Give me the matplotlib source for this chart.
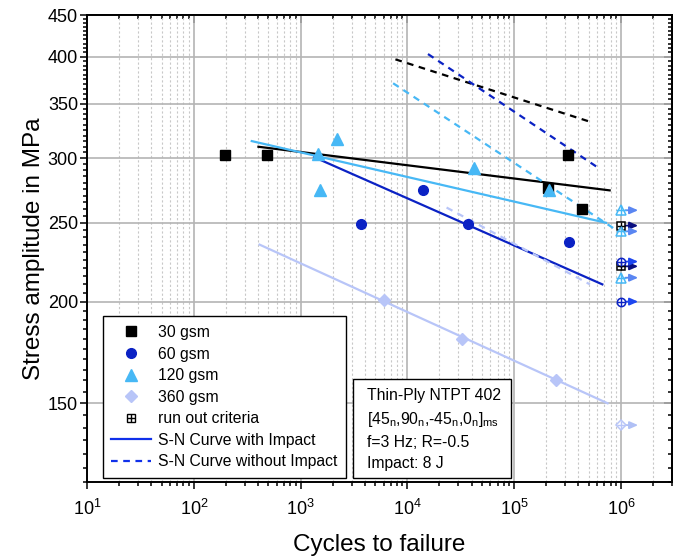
import numpy as np
import matplotlib.pyplot as plt
from matplotlib.lines import Line2D
from matplotlib.patches import Rectangle
from matplotlib.ticker import FixedLocator, NullFormatter, LogLocator, LogFormatterSciNotation, StrMethodFormatter

plt.rcParams['font.family'] = ['Liberation Sans', 'DejaVu Sans']
plt.rcParams['mathtext.fontset'] = 'custom'
plt.rcParams['mathtext.rm'] = 'Liberation Sans'
plt.rcParams['mathtext.it'] = 'Liberation Sans:italic'
plt.rcParams['mathtext.bf'] = 'Liberation Sans:bold'

# failed specimens: cycles to failure / stress amplitude (MPa)
n_30 = [195, 487, 207000, 321000, 430000]
s_30 = [303, 303, 276, 303, 260]
n_60 = [3680, 13900, 36600, 330000]
s_60 = [249, 274, 249, 237]
n_120 = [1450, 1510, 2180, 41700, 212000]
s_120 = [304, 274, 317, 292, 274]
n_360 = [6030, 32400, 245000]
s_360 = [201, 180, 160]

# run-outs (stopped at 1e6 cycles)
runout_n = 1e6
runout_30 = [248, 221]
runout_60 = [224, 200]
runout_120 = [259, 244, 214]
runout_360 = [141]

# S-N curves with impact (end points)
imp_30_n, imp_30_s = [403, 785000], [310, 274]
imp_60_n, imp_60_s = [1340, 670000], [301, 210]
imp_120_n, imp_120_s = [349, 725000], [315, 250]
imp_360_n, imp_360_s = [413, 750000], [235, 150]

# S-N curves without impact
ref_30_n, ref_30_s = [7730, 504000], [397, 333]
ref_60_n, ref_60_s = [15600, 615000], [403, 292]
ref_120_n, ref_120_s = [7360, 860000], [371, 246]
ref_360_n, ref_360_s = [23300, 513000], [261, 210]

c30 = 'black'
c60 = '#0b22c4'
c120 = '#47b8f5'
c360 = '#b8c5f8'
arrow_cols = {'30': '#0a0f80', '60': '#1d46f0', '120': '#5a86f2', '360': '#b0c0f5'}

fig = plt.figure(figsize=(6.8, 5.58), dpi=100)
ax = fig.add_axes([0.128, 0.136, 0.86, 0.837])
ax.set_xscale('log')
ax.set_yscale('log')
ax.set_xlim(10, 3e6)
ax.set_ylim(120, 450)

dash = (0, (3, 2.5))
lw = 1.6
for n, s, c in [(imp_30_n, imp_30_s, c30), (imp_60_n, imp_60_s, c60),
                (imp_120_n, imp_120_s, c120), (imp_360_n, imp_360_s, c360)]:
    ax.plot(n, s, color=c, lw=lw, zorder=3)
for n, s, c in [(ref_30_n, ref_30_s, c30), (ref_60_n, ref_60_s, c60),
                (ref_120_n, ref_120_s, c120), (ref_360_n, ref_360_s, c360)]:
    ax.plot(n, s, color=c, lw=lw, ls=dash, zorder=3)

ax.plot(n_30, s_30, 's', color=c30, ms=6.5, zorder=4)
ax.plot(n_60, s_60, 'o', color=c60, ms=7, zorder=4)
ax.plot(n_120, s_120, '^', color=c120, ms=8, zorder=4)
ax.plot(n_360, s_360, 'D', color=c360, ms=6, zorder=4)

# run-out markers with arrows
for key, vals, mk, c, ms in [('30', runout_30, 's', c30, 5.5), ('60', runout_60, 'o', c60, 6),
                             ('120', runout_120, '^', c120, 6.5), ('360', runout_360, 'D', c360, 5.5)]:
    for s in vals:
        ax.annotate('', xy=(runout_n * 1.45, s), xytext=(runout_n * 1.1, s),
                    arrowprops=dict(arrowstyle='-|>,head_length=0.5,head_width=0.22',
                                    color=arrow_cols[key], lw=1.3, shrinkA=0, shrinkB=0),
                    zorder=4)
    ax.plot([runout_n] * len(vals), vals, mk, mfc='white', mec=c, mew=1.1, ms=ms, zorder=5)
    ax.plot([runout_n] * len(vals), vals, '+', color=c, mew=1.0, ms=ms, zorder=6)

# axes, ticks and grid
ax.xaxis.set_major_locator(LogLocator(base=10, numticks=10))
ax.xaxis.set_minor_locator(LogLocator(base=10, subs=np.arange(2, 10), numticks=20))
ax.xaxis.set_major_formatter(LogFormatterSciNotation())
ax.xaxis.set_minor_formatter(NullFormatter())
ax.yaxis.set_major_locator(FixedLocator(np.arange(150, 451, 50)))
ax.yaxis.set_minor_locator(FixedLocator(np.arange(120, 451, 5)))
ax.yaxis.set_major_formatter(StrMethodFormatter('{x:.0f}'))
ax.yaxis.set_minor_formatter(NullFormatter())

ax.grid(which='major', axis='both', color='#b4b4b4', lw=1.2, zorder=0)
ax.grid(which='minor', axis='x', color='#c8c8c8', lw=0.8, ls=(0, (2, 2)), zorder=0)

ax.tick_params(which='both', bottom=True, left=True, top=False, right=False,
               direction='out', labelsize=13, width=1.1, color='black')
ax.tick_params(which='major', length=5)
ax.tick_params(which='minor', length=3)
ax.tick_params(axis='x', which='major', pad=7)
ax.tick_params(axis='y', which='major', pad=1.5)
sec_x = ax.secondary_xaxis('top')
sec_x.xaxis.set_major_locator(LogLocator(base=10, numticks=10))
sec_x.xaxis.set_minor_locator(LogLocator(base=10, subs=np.arange(2, 10), numticks=20))
sec_x.tick_params(which='both', direction='in', labeltop=False, width=1.1)
sec_x.tick_params(which='major', length=6)
sec_x.tick_params(which='minor', length=3)
sec_y = ax.secondary_yaxis('right')
sec_y.yaxis.set_major_locator(FixedLocator(np.arange(150, 451, 50)))
sec_y.yaxis.set_minor_locator(FixedLocator(np.arange(120, 451, 5)))
sec_y.tick_params(which='both', direction='in', labelright=False, width=1.1)
sec_y.tick_params(which='major', length=6)
sec_y.tick_params(which='minor', length=3)
for sp in list(ax.spines.values()) + [sec_x.spines['top'], sec_y.spines['right']]:
    sp.set_linewidth(1.4)

ax.set_xlabel('Cycles to failure', fontsize=17.5, labelpad=11)
ax.set_ylabel('Stress amplitude in MPa', fontsize=17.5, labelpad=2)

# legend
leg_col = '#1030ea'
handles = [
    Line2D([], [], ls='none', marker='s', color=c30, ms=6.5),
    Line2D([], [], ls='none', marker='o', color=c60, ms=7),
    Line2D([], [], ls='none', marker='^', color=c120, ms=8),
    Line2D([], [], ls='none', marker='D', color=c360, ms=6),
    (Line2D([], [], ls='none', marker='s', mfc='white', mec='black', mew=1.0, ms=6),
     Line2D([], [], ls='none', marker='+', color='black', mew=1.0, ms=6)),
    Line2D([], [], color=leg_col, lw=1.6),
    Line2D([], [], color=leg_col, lw=1.6, ls=dash),
]
labels = ['30 gsm', '60 gsm', '120 gsm', '360 gsm', 'run out criteria',
          'S-N Curve with Impact', 'S-N Curve without Impact']
leg = ax.legend(handles, labels, loc='lower left', bbox_to_anchor=(0.027, 0.0086),
                borderaxespad=0, fontsize=11.3, frameon=True, fancybox=False,
                edgecolor='black', framealpha=1, handlelength=2.55, handletextpad=0.4,
                labelspacing=0.42, borderpad=0.55)
leg.get_frame().set_linewidth(1.0)
leg.set_zorder(10)

# test conditions box
ax.add_patch(Rectangle((0.455, 0.0086), 0.27, 0.212, transform=ax.transAxes,
                       fc='white', ec='black', lw=1.0, zorder=10))
info = ('Thin-Ply NTPT 402\n'
        '[45$_\\mathrm{n}$,90$_\\mathrm{n}$,-45$_\\mathrm{n}$,0$_\\mathrm{n}$]$_\\mathrm{ms}$\n'
        'f=3 Hz; R=-0.5\n'
        'Impact: 8 J')
ax.text(0.478, 0.112, info, transform=ax.transAxes, fontsize=11.3, linespacing=1.5,
        ha='left', va='center', zorder=11)

fig.savefig('out.png', dpi=100)
